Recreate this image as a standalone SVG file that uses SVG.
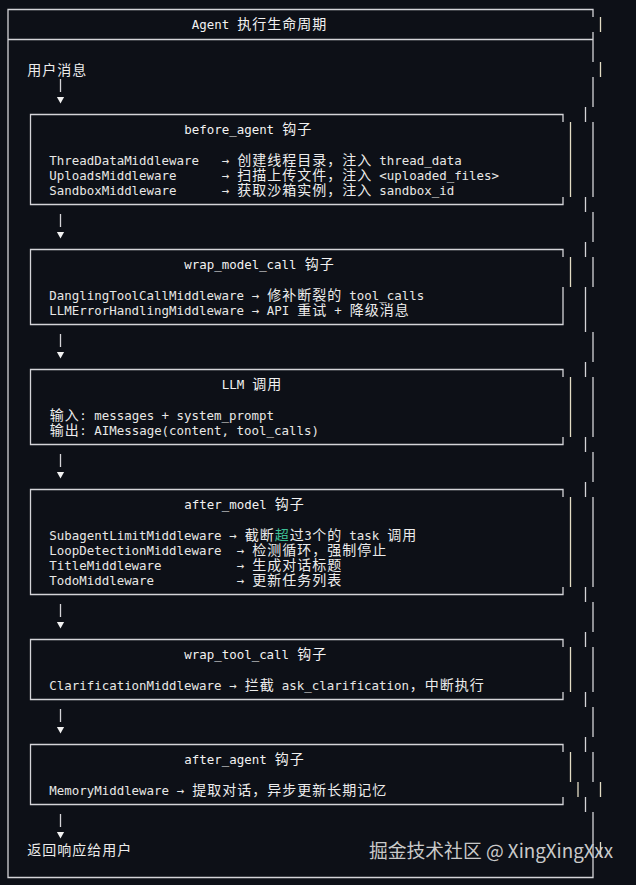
<svg xmlns="http://www.w3.org/2000/svg" xmlns:xlink="http://www.w3.org/1999/xlink" width="636" height="885" viewBox="0 0 636 885">
<style>
.ln{stroke:#d4d4d8;stroke-width:1.3;fill:none}
.y{stroke:#e2dcc4;stroke-width:1.3;fill:none}
.m{font-family:"DejaVu Sans Mono","Liberation Mono",monospace;font-size:12.45px;fill:#e8e8e6}
.c{font-family:"Noto Sans CJK SC","Noto Sans CJK JP",sans-serif;font-size:14px;letter-spacing:1px;fill:#ececec}
.g{fill:#3dbf95}
.t{fill:#f2f2f2}
.wm{font-family:"Noto Sans CJK SC","Noto Sans",sans-serif;font-size:18.8px;fill:#c9c9c9}
.tri{fill:#f0f0f0}
</style>
<defs>
<path id="tri" d="M-3.6,-2.5H3.6L0,4Z"/>
</defs>
<rect x="0" y="0" width="636" height="885" fill="#0d1017"/>

<g id="frame">
<path class="ln" d="M593,17V9.5H8V877.5H593V812M8,39.5H593"/>
<path class="ln" d="M593,32V62M593,77V107M593,122V197M593,212V242M593,257V287M593,332V362M593,377V437M593,452V482M593,497V587M593,602V632M593,647V692M593,707V737M593,752V782"/>
<path class="ln" d="M585.5,107V122M585.5,197V212M585.5,242V257M585.5,287V332M585.5,362V377M585.5,437V452M585.5,482V497M585.5,587V602M585.5,632V647M585.5,692V707M585.5,737V752M585.5,797V812"/>
<path class="y" d="M600.5,17V32M600.5,62V77M600.5,782V797M600.5,842V857"/>
<text y="29"><tspan class="m t" x="191.75">Agent</tspan><tspan class="c t" x="237.25">执行生命周期</tspan></text>
</g>

<g id="start">
<text class="c" x="27.25" y="74.5">用户消息</text>
</g>

<g id="before_agent">
<path class="ln" d="M563,122V114.5H30.5V204.5H563V197"/>
<path class="y" d="M570.5,122V197"/>
<text y="134"><tspan class="m t" x="184.25">before_agent</tspan><tspan class="c t" x="282.25">钩子</tspan></text>
<text y="164.5"><tspan class="m" x="49.25">ThreadDataMiddleware</tspan><tspan class="m" x="221.75">→</tspan><tspan class="c" x="237.25">创建线程目录，注入</tspan><tspan class="m" x="379.25">thread_data</tspan></text>
<text y="179.5"><tspan class="m" x="49.25">UploadsMiddleware</tspan><tspan class="m" x="221.75">→</tspan><tspan class="c" x="237.25">扫描上传文件，注入</tspan><tspan class="m" x="379.25">&lt;uploaded_files&gt;</tspan></text>
<text y="194.5"><tspan class="m" x="49.25">SandboxMiddleware</tspan><tspan class="m" x="221.75">→</tspan><tspan class="c" x="237.25">获取沙箱实例，注入</tspan><tspan class="m" x="379.25">sandbox_id</tspan></text>
</g>

<g id="wrap_model_call">
<path class="ln" d="M563,257V249.5H30.5V324.5H563V287"/>
<path class="y" d="M570.5,257V287"/>
<text y="269"><tspan class="m t" x="184.25">wrap_model_call</tspan><tspan class="c t" x="304.75">钩子</tspan></text>
<text y="299.5"><tspan class="m" x="49.25">DanglingToolCallMiddleware</tspan><tspan class="m" x="251.75">→</tspan><tspan class="c" x="267.25">修补断裂的</tspan><tspan class="m" x="349.25">tool_calls</tspan></text>
<text y="314.5"><tspan class="m" x="49.25">LLMErrorHandlingMiddleware</tspan><tspan class="m" x="251.75">→</tspan><tspan class="m" x="266.75">API</tspan><tspan class="c" x="297.25">重试</tspan><tspan class="m" x="334.25">+</tspan><tspan class="c" x="349.75">降级消息</tspan></text>
</g>

<g id="llm">
<path class="ln" d="M563,377V369.5H30.5V444.5H563V437"/>
<path class="y" d="M570.5,377V437"/>
<text y="389"><tspan class="m t" x="221.75">LLM</tspan><tspan class="c t" x="252.25">调用</tspan></text>
<text y="419.5"><tspan class="c" x="49.75">输入</tspan><tspan class="m" x="79.25">: messages + system_prompt</tspan></text>
<text y="434.5"><tspan class="c" x="49.75">输出</tspan><tspan class="m" x="79.25">: AIMessage(content, tool_calls)</tspan></text>
</g>

<g id="after_model">
<path class="ln" d="M563,497V489.5H30.5V594.5H563V587"/>
<path class="y" d="M570.5,497V587"/>
<text y="509"><tspan class="m t" x="184.25">after_model</tspan><tspan class="c t" x="274.75">钩子</tspan></text>
<text y="539.5"><tspan class="m" x="49.25">SubagentLimitMiddleware</tspan><tspan class="m" x="229.25">→</tspan><tspan class="c" x="244.75">截断</tspan><tspan class="c g" x="274.75">超</tspan><tspan class="c" x="289.75">过</tspan><tspan class="m" x="304.25">3</tspan><tspan class="c" x="312.25">个的</tspan><tspan class="m" x="349.25">task</tspan><tspan class="c" x="387.25">调用</tspan></text>
<text y="554.5"><tspan class="m" x="49.25">LoopDetectionMiddleware</tspan><tspan class="m" x="236.75">→</tspan><tspan class="c" x="252.25">检测循环，强制停止</tspan></text>
<text y="569.5"><tspan class="m" x="49.25">TitleMiddleware</tspan><tspan class="m" x="236.75">→</tspan><tspan class="c" x="252.25">生成对话标题</tspan></text>
<text y="584.5"><tspan class="m" x="49.25">TodoMiddleware</tspan><tspan class="m" x="236.75">→</tspan><tspan class="c" x="252.25">更新任务列表</tspan></text>
</g>

<g id="wrap_tool_call">
<path class="ln" d="M563,647V639.5H30.5V699.5H563V692"/>
<path class="y" d="M570.5,647V692"/>
<text y="659"><tspan class="m t" x="184.25">wrap_tool_call</tspan><tspan class="c t" x="297.25">钩子</tspan></text>
<text y="689.5"><tspan class="m" x="49.25">ClarificationMiddleware</tspan><tspan class="m" x="229.25">→</tspan><tspan class="c" x="244.75">拦截</tspan><tspan class="m" x="281.75">ask_clarification</tspan><tspan class="c" x="409.75">，中断执行</tspan></text>
</g>

<g id="after_agent">
<path class="ln" d="M563,752V744.5H30.5V804.5H563V797"/>
<path class="y" d="M570.5,752V782M578,782V797"/>
<text y="764"><tspan class="m t" x="184.25">after_agent</tspan><tspan class="c t" x="274.75">钩子</tspan></text>
<text y="794.5"><tspan class="m" x="49.25">MemoryMiddleware</tspan><tspan class="m" x="176.75">→</tspan><tspan class="c" x="192.25">提取对话，异步更新长期记忆</tspan></text>
</g>

<g id="end">
<text class="c" x="27.25" y="854.5">返回响应给用户</text>
</g>

<g id="connectors">
<path class="ln" d="M60.5,79V92M60.5,214V227M60.5,334V347M60.5,454V467M60.5,604V617M60.5,709V722M60.5,814V827"/>
<use class="tri" xlink:href="#tri" x="60.5" y="99.5"/>
<use class="tri" xlink:href="#tri" x="60.5" y="234.5"/>
<use class="tri" xlink:href="#tri" x="60.5" y="354.5"/>
<use class="tri" xlink:href="#tri" x="60.5" y="474.5"/>
<use class="tri" xlink:href="#tri" x="60.5" y="624.5"/>
<use class="tri" xlink:href="#tri" x="60.5" y="729.5"/>
<use class="tri" xlink:href="#tri" x="60.5" y="834.5"/>
</g>

<g id="watermark">
<text class="wm" x="369" y="858">掘金技术社区 @ XingXingXxx</text>
</g>
</svg>
